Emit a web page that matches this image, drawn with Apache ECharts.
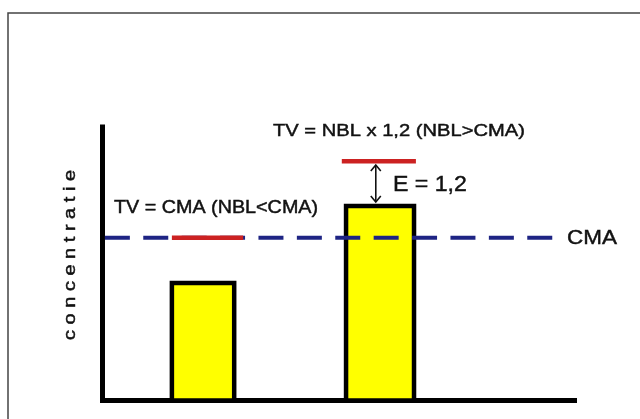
<!DOCTYPE html>
<html>
<head>
<meta charset="utf-8">
<script src="https://cdn.jsdelivr.net/npm/echarts@6/dist/echarts.min.js"></script>
<style>
html,body{margin:0;padding:0;background:#fff;}
#chart{width:640px;height:419px;}
</style>
</head>
<body>
<div id="chart"></div>
<script>
// ---- data (axis units: x 0..100, y 0..100) ----
const barNames = ['NBL<CMA', 'NBL>CMA'];
const barStarts = [14.7, 51.6];
const barEnds = [27.9, 66.0];
const barValues = [43.0, 71.1];

const cmaValue = 59.5;
const cmaStart = 0.5;
const cmaEnd = 95.4;

const tvStarts = [14.7, 50.7];
const tvEnds = [29.8, 66.4];
const tvValues = [59.5, 87.5];

const arrowX = [57.9];
const arrowFrom = [72.6];
const arrowTo = [86.1];

const labelTV1 = 'TV = CMA (NBL<CMA)';
const labelTV2 = 'TV = NBL x 1,2 (NBL>CMA)';
const labelE = 'E = 1,2';
const labelCMA = 'CMA';
const yAxisTitle = 'c o n c e n t r a t i e';

// ---- chart ----
const chart = echarts.init(document.getElementById('chart'), null, {renderer: 'canvas'});
const FONT = '"Liberation Sans", Arial, sans-serif';
const TXT = '#111111';

const barData = barStarts.map((s, i) => [s, barEnds[i], barValues[i], barNames[i]]);
const tvData = tvStarts.map((s, i) => [s, tvEnds[i], tvValues[i]]);
const arrowData = arrowX.map((x, i) => [x, arrowFrom[i], arrowTo[i]]);

function txt(text, size) {
  return {text: text, font: size + 'px ' + FONT, fill: TXT,
          textAlign: 'left', textVerticalAlign: 'middle',
          stroke: TXT, lineWidth: 0.45};
}

chart.setOption({
  animation: false,
  backgroundColor: '#ffffff',
  grid: {left: 102.5, right: 65.5, top: 127, bottom: 18.5},
  xAxis: {
    type: 'value', min: 0, max: 100,
    axisLine: {show: true, lineStyle: {color: '#000', width: 5, cap: 'square'}},
    axisTick: {show: false}, axisLabel: {show: false}, splitLine: {show: false}
  },
  yAxis: {
    type: 'value', min: 0, max: 100,
    axisLine: {show: true, lineStyle: {color: '#000', width: 5, cap: 'square'}},
    axisTick: {show: false}, axisLabel: {show: false}, splitLine: {show: false}
  },
  series: [
    {
      type: 'custom', name: 'bars', z: 2,
      data: barData,
      renderItem: function (params, api) {
        const p0 = api.coord([api.value(0), api.value(2)]);
        const p1 = api.coord([api.value(1), 0]);
        return {
          type: 'rect',
          shape: {x: p0[0], y: p0[1], width: p1[0] - p0[0], height: p1[1] - p0[1]},
          style: {fill: '#ffff00', stroke: '#000', lineWidth: 4.5}
        };
      }
    },
    {
      type: 'line', name: 'CMA', z: 3,
      data: [[cmaStart, cmaValue], [cmaEnd, cmaValue]],
      symbol: 'none',
      lineStyle: {color: '#1e2484', width: 4, type: [25, 13.4]}
    },
    {
      type: 'custom', name: 'TV', z: 10,
      data: tvData,
      renderItem: function (params, api) {
        const a = api.coord([api.value(0), api.value(2)]);
        const b = api.coord([api.value(1), api.value(2)]);
        return {
          type: 'line',
          shape: {x1: a[0], y1: a[1], x2: b[0], y2: b[1]},
          style: {stroke: '#cc2222', lineWidth: 4.5}
        };
      }
    },
    {
      type: 'custom', name: 'E', z: 11,
      data: arrowData,
      renderItem: function (params, api) {
        const lo = api.coord([api.value(0), api.value(1)]);
        const hi = api.coord([api.value(0), api.value(2)]);
        const x = lo[0];
        const st = {stroke: '#111', lineWidth: 1.6, fill: null};
        return {
          type: 'group',
          children: [
            {type: 'line', shape: {x1: x, y1: hi[1], x2: x, y2: lo[1]}, style: st},
            {type: 'polyline', shape: {points: [[x - 5, hi[1] + 6], [x, hi[1]], [x + 5, hi[1] + 6]]}, style: st},
            {type: 'polyline', shape: {points: [[x - 5, lo[1] - 6], [x, lo[1]], [x + 5, lo[1] - 6]]}, style: st}
          ]
        };
      }
    }
  ],
  graphic: [
    {type: 'rect', z: 0, silent: true,
     shape: {x: 8, y: 13, width: 700, height: 500},
     style: {fill: null, stroke: '#444', lineWidth: 1.5}},
    {type: 'text', x: 273, y: 131, scaleX: 1.185, z: 20, style: txt(labelTV2, 17)},
    {type: 'text', x: 114, y: 208, scaleX: 1.097, z: 20, style: txt(labelTV1, 18)},
    {type: 'text', x: 567, y: 238, scaleX: 1.07, z: 20, style: txt(labelCMA, 21)},
    {type: 'text', x: 393, y: 185, scaleX: 1.05, z: 20, style: txt(labelE, 22)},
    {type: 'text', x: 71, y: 255, rotation: Math.PI / 2, scaleX: 1.25, z: 20,
     style: Object.assign(txt(yAxisTitle, 16), {textAlign: 'center'})}
  ]
});
</script>
</body>
</html>
